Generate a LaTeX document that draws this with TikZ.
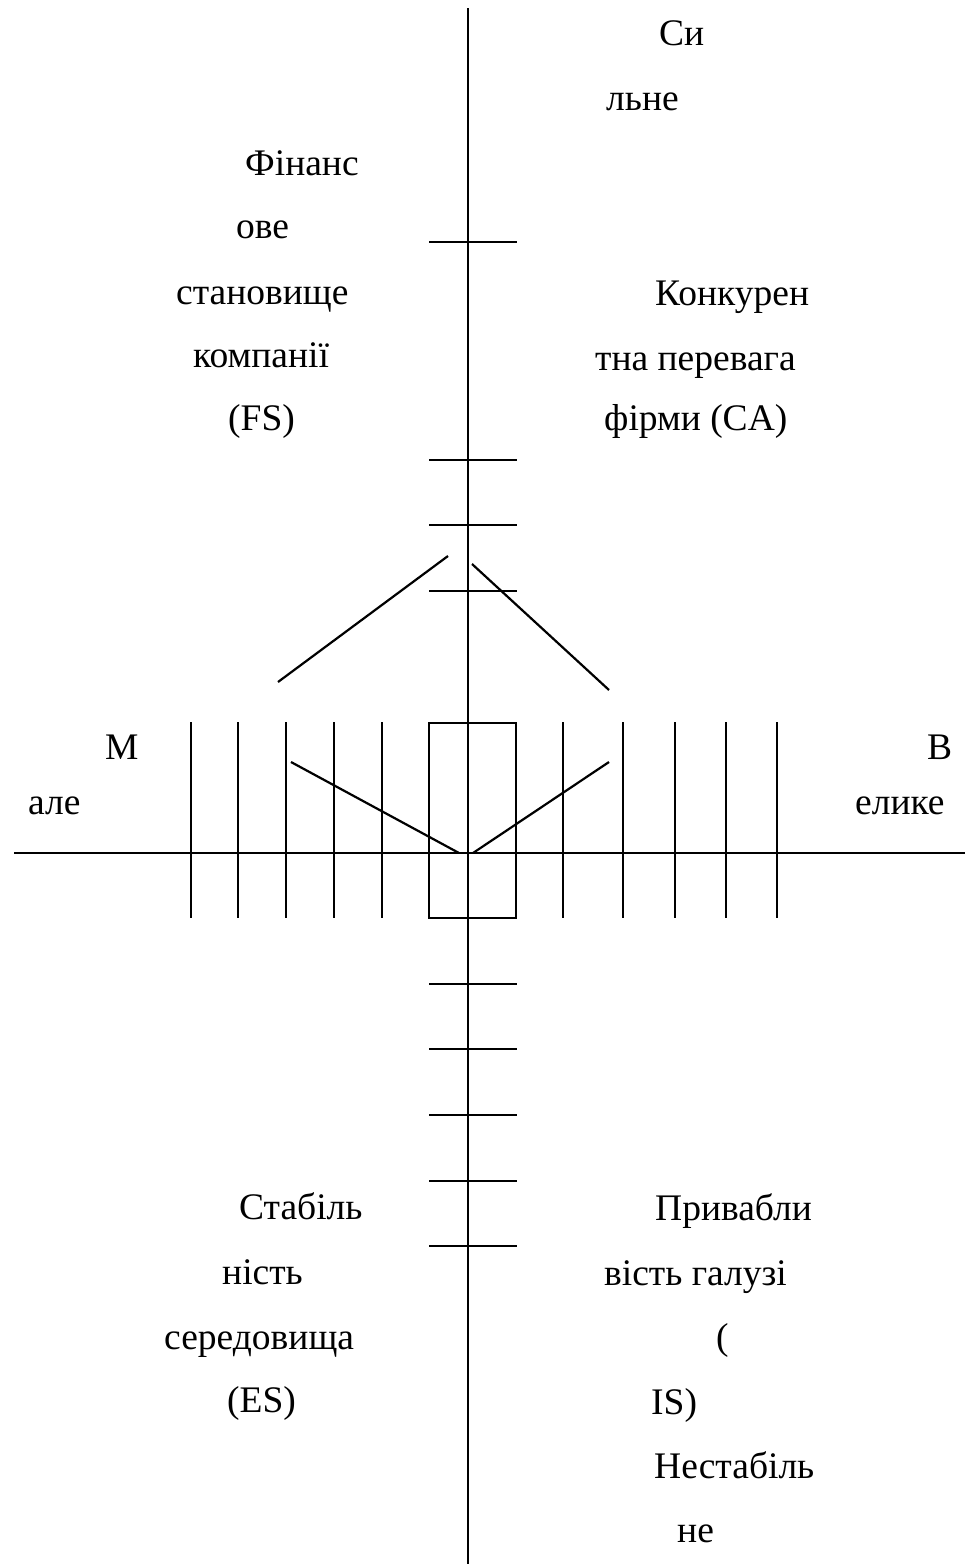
\documentclass[tikz,border=0pt]{standalone}
\usepackage{fontspec}
\setmainfont{Liberation Serif}
\begin{document}
\begin{tikzpicture}[x=1pt,y=-1pt,
  ln/.style={line width=2.2pt,line cap=butt},
  lbl/.style={anchor=base west,inner sep=0pt,yshift=-2.5pt,font=\fontsize{37.5}{42}\selectfont}]
\useasboundingbox (0,0) rectangle (965,1564);
% axes
\coordinate (vt) at (468,8);
\coordinate (vb) at (468,1564);
\coordinate (hl) at (14,853);
\coordinate (hr) at (965,853);
\draw[ln] (vt) -- (vb);
\draw[ln] (hl) -- (hr);
% ticks on vertical axis
\foreach \y in {242,460,525,591,984,1049,1115,1181,1246}
  \draw[ln] (429,\y) -- (517,\y);
% vertical bars on horizontal axis
\foreach \x in {191,238,286,334,382,563,623,675,726,777}
  \draw[ln] (\x,722) -- (\x,918);
% central rectangle
\draw[ln,line cap=rect] (429,723) rectangle (516,918);
% diagonal lines
\draw[ln] (278,682) -- (448,556);
\draw[ln] (472,564) -- (609,690);
\draw[ln] (291,762) -- (459,853);
\draw[ln] (473,853) -- (609,762);
% labels upper right
\node[lbl] (t1) at (659,43) {Си};
\node[lbl] (t2) at (606,108) {льне};
\node[lbl] (t3) at (655,303) {Конкурен};
\node[lbl] (t4) at (595,368) {тна перевага};
\node[lbl] (t5) at (604,428) {фірми (CA)};
% labels upper left
\node[lbl] (f1) at (245,173) {Фінанс};
\node[lbl] (f2) at (236,236) {ове};
\node[lbl] (f3) at (176,302) {становище};
\node[lbl] (f4) at (193,365) {компанії};
\node[lbl] (f5) at (228,428) {(FS)};
% side labels
\node[lbl] (m1) at (105,757) {М};
\node[lbl] (m2) at (28,812) {але};
\node[lbl] (b1) at (927,757) {В};
\node[lbl] (b2) at (855,812) {елике};
% lower left
\node[lbl] (s1) at (239,1217) {Стабіль};
\node[lbl] (s2) at (222,1282) {ність};
\node[lbl] (s3) at (164,1347) {середовища};
\node[lbl] (s4) at (227,1410) {(ES)};
% lower right
\node[lbl] (p1) at (655,1218) {Привабли};
\node[lbl] (p2) at (604,1283) {вість галузі};
\node[lbl] (p3) at (716,1347) {(};
\node[lbl] (p4) at (651,1412) {IS)};
\node[lbl] (p5) at (654,1476) {Нестабіль};
\node[lbl] (p6) at (677,1540) {не};
\end{tikzpicture}
\end{document}
